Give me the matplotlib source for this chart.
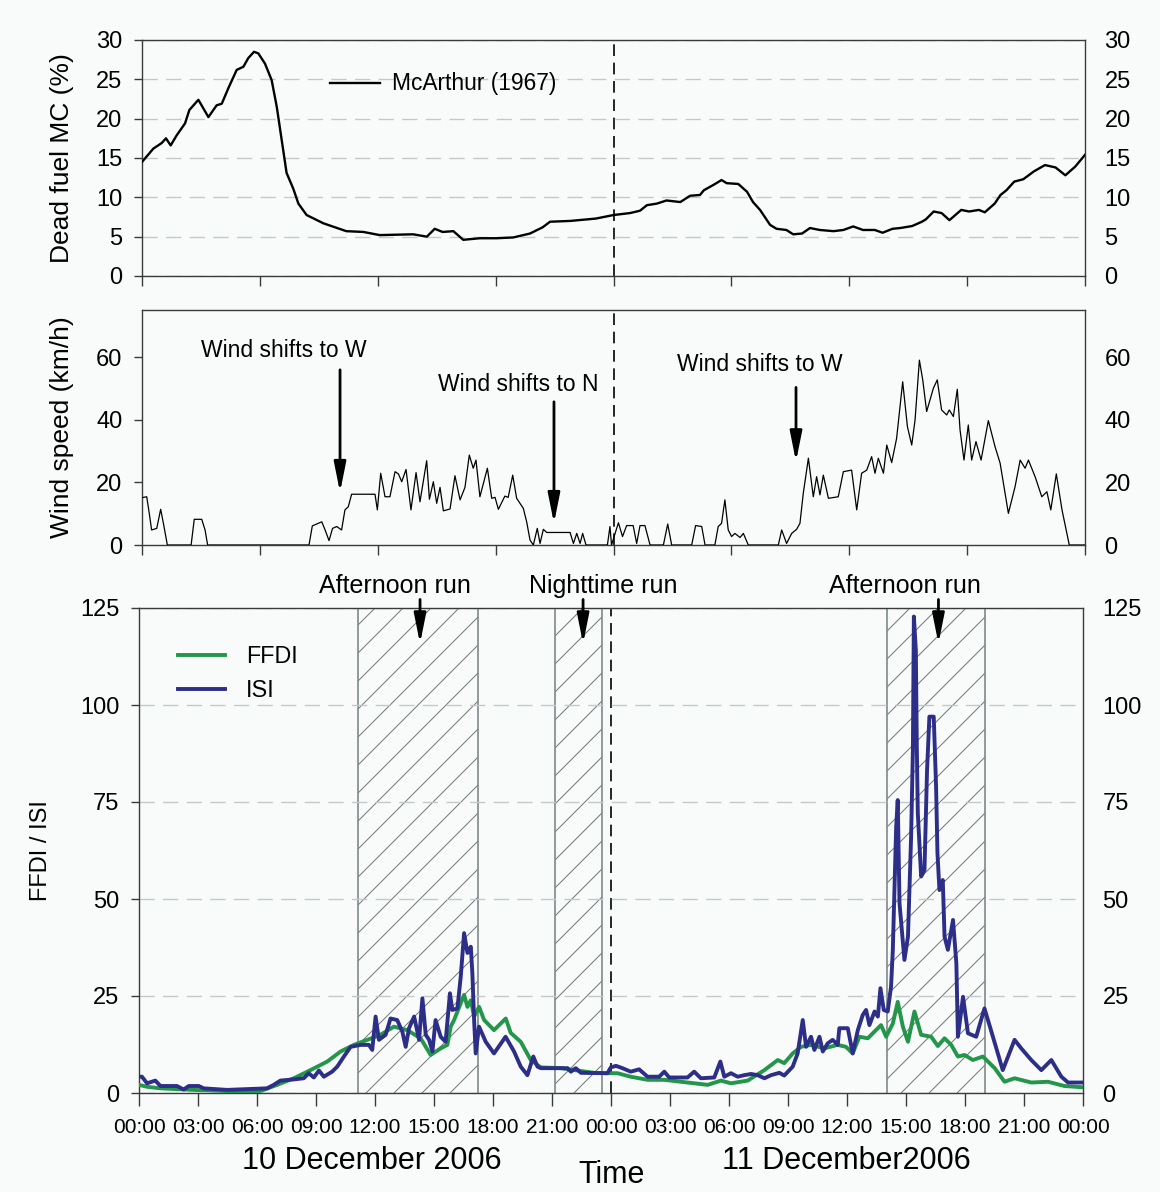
import matplotlib
matplotlib.use('Agg')
import matplotlib.pyplot as plt
import numpy as np

plt.rcParams['font.family'] = ['Liberation Sans', 'DejaVu Sans']

# ---------------- data (hours since 00:00 10 Dec 2006) ----------------
fmc_t = [0, 0.58, 1.0, 1.22, 1.46, 1.77, 2.19, 2.41, 2.87, 3.38, 3.8, 4.06, 4.4, 4.82, 5.16, 5.41,
         5.7, 5.92, 6.26, 6.6, 6.86, 7.11, 7.36, 7.7, 7.96, 8.38, 9.23, 10.4, 11.27, 12.1, 13.8, 14.5,
         14.9, 15.3, 15.85, 16.35, 17.2, 18.05, 18.9, 19.75, 20.4, 20.77, 21.8, 23.1, 24.0, 24.84,
         25.35, 25.7, 26.2, 26.7, 27.4, 27.9, 28.4, 28.6, 29.1, 29.5, 29.76, 30.35, 30.8, 31.1, 31.46,
         31.97, 32.3, 32.8, 33.15, 33.6, 34.0, 34.5, 35.2, 35.7, 36.2, 36.7, 37.3, 37.7, 38.2, 38.6,
         39.2, 39.7, 39.9, 40.3, 40.7, 41.1, 41.7, 42.1, 42.6, 42.9, 43.4, 43.7, 44.0, 44.4, 44.86,
         45.4, 45.96, 46.5, 47.0, 47.5, 48.0]
fmc_v = [14.5, 16.2, 16.9, 17.5, 16.6, 17.9, 19.4, 21.1, 22.4, 20.2, 21.7, 21.9, 23.9, 26.2, 26.6, 27.7,
         28.5, 28.3, 27.0, 24.9, 21.5, 17.3, 13.1, 11.1, 9.2, 7.75, 6.7, 5.7, 5.6, 5.2, 5.3, 5.0,
         6.0, 5.6, 5.7, 4.6, 4.8, 4.8, 4.9, 5.4, 6.2, 6.9, 7.0, 7.3, 7.75, 8.0,
         8.3, 9.0, 9.2, 9.6, 9.4, 10.2, 10.3, 10.9, 11.6, 12.2, 11.8, 11.7, 10.7, 9.4, 8.4,
         6.5, 6.0, 5.85, 5.3, 5.4, 6.1, 5.85, 5.7, 5.85, 6.3, 5.85, 5.85, 5.5, 6.0, 6.1,
         6.35, 6.9, 7.2, 8.2, 8.0, 7.1, 8.4, 8.2, 8.4, 8.1, 9.2, 10.3, 10.9, 12.0, 12.3,
         13.3, 14.1, 13.8, 12.8, 13.9, 15.4]

ws_t = [0, 0.24, 0.37, 0.49, 0.75, 0.95, 1.09, 1.29, 2.5, 2.66, 3.04, 3.21, 3.34, 8.5, 8.67, 8.89,
        9.15, 9.32, 9.52, 9.7, 9.91, 10.16, 10.33, 10.5, 10.67, 11.86, 11.98, 12.15, 12.37, 12.62,
        12.88, 13.05, 13.22, 13.44, 13.69, 13.95, 14.15, 14.49, 14.63, 14.83, 15.0, 15.17, 15.34,
        15.68, 15.93, 16.19, 16.44, 16.66, 16.86, 17.0, 17.2, 17.58, 17.8, 17.97, 18.14, 18.47,
        18.64, 18.87, 19.07, 19.41, 19.58, 19.75, 19.92, 20.12, 20.26, 20.43, 20.6, 21.79, 21.96,
        22.13, 22.3, 22.43, 22.6, 23.69, 23.82, 23.9, 24.25, 24.46, 24.67, 25.0, 25.18, 25.35, 25.6,
        25.86, 26.54, 26.76, 26.96, 27.98, 28.18, 28.49, 28.66, 29.16, 29.33, 29.5, 29.67, 29.84,
        30.01, 30.18, 30.44, 30.61, 30.86, 32.39, 32.56, 32.81, 33.07, 33.32, 33.49, 33.66, 33.92,
        34.17, 34.34, 34.51, 34.68, 34.94, 35.44, 35.7, 36.12, 36.38, 36.63, 36.89, 37.14, 37.31,
        37.48, 37.74, 37.91, 38.16, 38.41, 38.72, 38.96, 39.18, 39.35, 39.57, 39.74, 39.94, 40.28,
        40.48, 40.7, 40.96, 41.09, 41.3, 41.5, 41.64, 41.84, 42.06, 42.23, 42.45, 42.71, 43.08,
        43.42, 43.68, 44.1, 44.44, 44.7, 44.95, 45.12, 45.46, 45.8, 46.06, 46.26, 46.54, 46.83,
        47.2, 48.0]
ws_v = [15.1, 15.4, 10.1, 4.8, 5.3, 11.4, 6.9, 0, 0, 8.2, 8.2, 4.8, 0, 0, 6.1, 6.7,
        7.4, 4.8, 1.4, 5.3, 5.9, 4.8, 11.2, 12.2, 16.2, 16.2, 11.2, 22.9, 15.4, 15.4,
        23.4, 22.7, 20.2, 24.1, 11.2, 23.1, 13.8, 26.9, 14.6, 20.2, 13.3, 18.4, 10.9,
        11.5, 22.1, 14.4, 18.4, 28.7, 24.5, 27.1, 15.4, 24.5, 14.9, 15.2, 11.4, 15.6,
        15.2, 22.3, 14.9, 11.7, 7.4, 1.6, 0, 5.3, 0.5, 5.0, 4.0, 4.0, 0.5,
        3.7, 0.5, 3.7, 0, 0, 5.9, 0, 7.1, 2.7, 6.2, 6.2, 0.5, 6.2, 6.2,
        0, 0, 6.7, 0, 0, 6.2, 5.9, 0, 0, 5.9, 6.9, 14.4, 4.8,
        2.7, 3.7, 2.4, 3.7, 0, 0, 4.8, 0.5, 3.7, 5.0, 6.9, 16.5, 27.7,
        15.4, 21.8, 16.0, 22.3, 14.9, 15.4, 23.4, 23.9, 11.2, 22.9, 23.9, 28.2, 22.9,
        27.7, 22.9, 31.9, 26.3, 34.0, 52.1, 37.8, 31.9, 39.9, 59.0, 52.7, 42.6, 50.0,
        52.7, 43.1, 41.5, 43.1, 41.0, 49.7, 36.7, 27.1, 38.3, 27.1, 33.0, 27.1, 39.7,
        31.4, 26.1, 10.1, 18.6, 27.1, 24.5, 27.1, 21.8, 15.4, 17.0, 11.2, 22.7, 11.2,
        0, 0]

ffdi_t = [0, 0.41, 1.09, 2.78, 4.48, 6.18, 7.02, 7.87, 8.72, 9.57, 10.25, 10.93, 11.61, 12.28, 12.96,
          13.64, 14.32, 14.83, 15.34, 15.68, 15.85, 16.02, 16.53, 16.7, 16.87, 17.04, 17.29, 17.55,
          17.88, 18.05, 18.65, 18.9, 19.41, 19.92, 20.43, 21.45, 23.14, 23.82, 24.33, 25.0, 25.86,
          26.71, 27.55, 28.92, 29.59, 30.1, 30.95, 31.8, 32.48, 32.81, 33.24, 33.66, 34.17, 34.85,
          35.52, 35.95, 36.29, 36.63, 37.06, 37.39, 37.73, 37.99, 38.33, 38.58, 38.84, 39.1, 39.43,
          39.77, 40.28, 40.62, 40.96, 41.3, 41.64, 41.98, 42.4, 42.91, 43.51, 44.01, 44.52, 45.37,
          46.22, 47.06, 47.91]
ffdi_v = [2.1, 1.6, 1.2, 0.8, 0.5, 0.5, 2.1, 3.8, 5.9, 8.1, 10.7, 12.4, 13.7, 15.0, 17.1,
          16.2, 14.1, 9.8, 11.5, 12.4, 17.1, 18.8, 25.3, 22.2, 23.9, 19.7, 22.2, 18.8,
          17.1, 16.2, 19.2, 15.5, 13.2, 8.5, 6.6, 6.4, 5.2, 5.1, 5.1, 4.2, 3.4,
          3.4, 2.9, 2.1, 3.2, 2.5, 3.2, 5.9, 8.5, 7.7, 10.2, 11.9, 12.4, 11.5,
          12.4, 11.9, 10.2, 14.5, 14.1, 15.8, 17.5, 14.5, 17.9, 23.5, 17.1, 13.2, 21.0,
          15.0, 14.5, 12.1, 14.1, 12.4, 9.4, 9.8, 8.5, 9.4, 6.4, 2.9, 3.8, 2.7,
          2.9, 1.8, 1.5]

isi_t = [0, 0.15, 0.41, 0.83, 1.09, 1.93, 2.27, 2.53, 3.04, 3.29, 4.48, 6.51, 6.85, 7.19, 7.87, 8.38,
         8.63, 8.89, 9.15, 9.4, 9.82, 10.08, 10.42, 10.76, 11.27, 11.69, 11.86, 12.03, 12.2, 12.54,
         12.79, 13.13, 13.39, 13.56, 13.73, 13.99, 14.24, 14.41, 14.58, 14.75, 14.92, 15.08, 15.34,
         15.59, 15.81, 15.93, 16.19, 16.36, 16.53, 16.7, 16.87, 16.95, 17.04, 17.12, 17.29, 17.63,
         18.05, 18.64, 19.07, 19.41, 19.75, 20.05, 20.26, 20.43, 21.79, 21.96, 22.21, 22.47, 23.82,
         23.99, 24.25, 24.58, 25.0, 25.43, 25.86, 26.45, 26.71, 26.96, 27.89, 28.23, 28.57, 29.25,
         29.56, 29.76, 30.1, 30.44, 30.78, 31.12, 31.46, 31.8, 32.14, 32.56, 32.81, 33.24, 33.49,
         33.75, 33.92, 34.17, 34.34, 34.6, 34.77, 35.02, 35.27, 35.53, 35.61, 36.04, 36.29, 36.55,
         36.8, 36.97, 37.14, 37.4, 37.57, 37.7, 37.87, 38.07, 38.24, 38.33, 38.5, 38.58, 38.67,
         38.92, 39.1, 39.26, 39.35, 39.4, 39.5, 39.55, 39.6, 39.77, 39.94, 40.07, 40.19, 40.41,
         40.53, 40.6, 40.7, 40.87, 40.96, 41.13, 41.39, 41.56, 41.64, 41.9, 42.15, 42.57, 42.99,
         43.32, 43.92, 44.52, 44.86, 45.37, 45.88, 46.39, 46.9, 47.24, 47.91]
isi_v = [4.2, 4.2, 2.5, 3.2, 1.8, 1.8, 0.9, 1.8, 1.8, 1.2, 0.8, 1.2, 2.1, 3.2, 3.5, 3.8,
         5.1, 4.0, 5.8, 4.2, 5.5, 6.8, 9.4, 11.9, 12.4, 12.4, 11.1, 19.7, 13.7, 15.0,
         19.2, 18.8, 15.8, 11.9, 16.7, 19.7, 13.7, 24.4, 15.0, 13.7, 10.7, 18.8, 14.5,
         13.2, 25.7, 21.4, 21.8, 30.0, 41.2, 36.1, 37.7, 30.9, 18.8, 10.2, 17.1, 13.2,
         10.2, 14.5, 10.7, 6.8, 4.6, 9.4, 6.8, 6.4, 6.4, 5.5, 6.4, 5.2, 5.1,
         6.6, 7.0, 6.4, 5.5, 6.1, 4.2, 4.2, 5.5, 4.0, 4.0, 5.5, 3.8, 4.0,
         8.1, 4.2, 5.1, 4.2, 4.6, 4.9, 4.6, 3.8, 4.6, 5.2, 4.5, 6.8, 10.2,
         18.8, 11.9, 14.5, 11.1, 14.5, 10.7, 12.8, 13.7, 12.4, 16.7, 16.7, 10.2, 16.2,
         20.1, 21.4, 17.5, 21.0, 19.7, 27.0, 21.4, 21.0, 27.4, 36.9, 68.6, 75.5, 48.9,
         34.3, 40.3, 66.1, 88.4, 122.8, 114.2, 89.3, 72.2, 55.8, 57.5, 83.2, 97.0, 97.0,
         78.9, 61.8, 52.3, 54.9, 40.3, 36.9, 44.6, 33.5, 14.5, 24.8, 15.4, 14.5, 21.8,
         16.2, 5.9, 13.7, 11.5, 8.5, 5.9, 8.5, 4.2, 2.7, 2.7]

run_spans = [(11.14, 17.24), (21.15, 23.54), (38.03, 43.02)]
run_labels = ['Afternoon run', 'Nighttime run', 'Afternoon run']
run_label_x = [13.0, 23.6, 38.95]
run_arrow_x = [14.29, 22.58, 40.65]

wind_notes = ['Wind shifts to W', 'Wind shifts to N', 'Wind shifts to W']
wind_text_xy = [(7.23, 62.2), (19.15, 51.1), (31.46, 57.5)]
wind_arrow_x = [10.08, 20.97, 33.29]
wind_arrow_y = [(55.9, 16.8), (45.7, 6.9), (50.3, 26.6)]

xtick_labels = ['00:00', '03:00', '06:00', '09:00', '12:00', '15:00', '18:00', '21:00',
                '00:00', '03:00', '06:00', '09:00', '12:00', '15:00', '18:00', '21:00', '00:00']

# ---------------- figure ----------------
W, H = 1160, 1192
bg = '#f9fbfb'
fig = plt.figure(figsize=(W / 100, H / 100), dpi=100)
fig.patch.set_facecolor(bg)

L1, R1 = 142 / W, 1085 / W
ax1 = fig.add_axes([L1, 1 - 276 / H, R1 - L1, 236 / H])
ax2 = fig.add_axes([L1, 1 - 545 / H, R1 - L1, 235 / H])
L3, R3 = 139 / W, 1083 / W
ax3 = fig.add_axes([L3, 1 - 1093 / H, R3 - L3, 485 / H])

GREEN = '#24964a'
NAVY = '#2d2e88'
GRIDC = '#c4c8c8'
SPINE = '#3a3a3a'
ARROW = dict(arrowstyle='-|>,head_length=1.0,head_width=0.2', color='k',
             lw=2.0, shrinkA=0, shrinkB=0, mutation_scale=18)


def style(ax, ylim, yticks, xstep, xlen):
    ax.set_facecolor(bg)
    ax.set_xlim(0, 48)
    ax.set_ylim(*ylim)
    ax.set_yticks(yticks)
    ax.set_xticks(np.arange(0, 48.01, xstep))
    ax.tick_params(axis='y', direction='out', length=6, width=1, labelsize=17, pad=8,
                   left=True, right=False, labelleft=True, labelright=True, color=SPINE)
    ax.tick_params(axis='x', direction='out', length=xlen, width=1, top=False, color=SPINE)
    for s in ax.spines.values():
        s.set_color(SPINE)
        s.set_linewidth(1.0)
    ax.axvline(24, color='k', lw=1.2, dashes=(7, 4), zorder=1)


# ---- top panel: dead fuel moisture ----
style(ax1, (0, 30), [0, 5, 10, 15, 20, 25, 30], 6, 7)
ax1.set_xticklabels([])
ax1.grid(True, axis='y', color=GRIDC, lw=1.0, linestyle=(0, (11, 6)))
ax1.grid(False, axis='x')
ax1.plot(fmc_t, fmc_v, color='k', lw=1.7, label='McArthur (1967)', zorder=3)
ax1.legend(loc='center left', bbox_to_anchor=(0.1994, 0.8136), frameon=False, handlelength=2.2,
           handletextpad=0.5, borderpad=0, borderaxespad=0, fontsize=16.4)
ax1.set_ylabel('Dead fuel MC (%)', fontsize=19)
ax1.yaxis.set_label_coords(-0.072, 0.5)

# ---- middle panel: wind speed ----
style(ax2, (0, 75), [0, 20, 40, 60], 6, 7)
ax2.set_xticklabels([])
ax2.plot(ws_t, ws_v, color='k', lw=0.9, zorder=3)
ax2.set_ylabel('Wind speed (km/h)', fontsize=19)
ax2.yaxis.set_label_coords(-0.072, 0.5)
for txt, (tx, ty), axx, (ya, yb) in zip(wind_notes, wind_text_xy, wind_arrow_x, wind_arrow_y):
    ax2.text(tx, ty, txt, ha='center', va='center', fontsize=16.5)
    ax2.annotate('', xy=(axx, yb), xytext=(axx, ya), arrowprops=ARROW)

# ---- bottom panel: FFDI / ISI ----
style(ax3, (0, 125), [0, 25, 50, 75, 100, 125], 3, 9)
ax3.set_xticklabels(xtick_labels, fontsize=15)
ax3.tick_params(axis='x', pad=9)
ax3.grid(True, axis='y', color=GRIDC, lw=1.0, linestyle=(0, (11, 6)))
ax3.grid(False, axis='x')

# hatched run periods (45 degree hatch lines in pixel space)
fig.canvas.draw()
bb = ax3.get_window_extent()
px_per_h = bb.width / 48.0
px_per_u = bb.height / 125.0
slope = px_per_h / px_per_u
spacing_h = 28.0 / px_per_h
for (a, b) in run_spans:
    rect = plt.Rectangle((a, 0), b - a, 125, fill=False, edgecolor='none', transform=ax3.transData)
    ax3.add_patch(rect)
    x0s = np.arange(b, a - 125 / slope - spacing_h, -spacing_h)
    for x0 in x0s:
        ln, = ax3.plot([x0, x0 + 125 / slope], [0, 125], color='#6f7474', lw=0.7, zorder=1.2)
        ln.set_clip_path(rect)
    ax3.axvline(a, color='#7e8a8a', lw=1.2, zorder=1.3)
    ax3.axvline(b, color='#7e8a8a', lw=1.2, zorder=1.3)

ax3.plot(ffdi_t, ffdi_v, color=GREEN, lw=2.8, label='FFDI', zorder=3)
ax3.plot(isi_t, isi_v, color=NAVY, lw=2.8, label='ISI', zorder=4)
ax3.legend(loc='center left', bbox_to_anchor=(0.0413, 0.865), frameon=False, handlelength=2.0,
           handletextpad=0.9, borderpad=0, borderaxespad=0, fontsize=16.8, labelspacing=0.45)
ax3.set_ylabel('FFDI / ISI', fontsize=17)
ax3.yaxis.set_label_coords(-0.092, 0.5)

for txt, tx, axx in zip(run_labels, run_label_x, run_arrow_x):
    ax3.text(tx, 130.6, txt, ha='center', va='center', fontsize=18, clip_on=False)
    ax3.annotate('', xy=(axx, 115.8), xytext=(axx, 127.2), annotation_clip=False, arrowprops=ARROW)

fig.text(372 / W, 1 - 1161 / H, '10 December 2006', ha='center', va='center', fontsize=22)
fig.text(846 / W, 1 - 1161 / H, '11 December2006', ha='center', va='center', fontsize=22)
fig.text(612 / W, 1 - 1175 / H, 'Time', ha='center', va='center', fontsize=22)

fig.savefig('out.png', dpi=100, facecolor=bg)
